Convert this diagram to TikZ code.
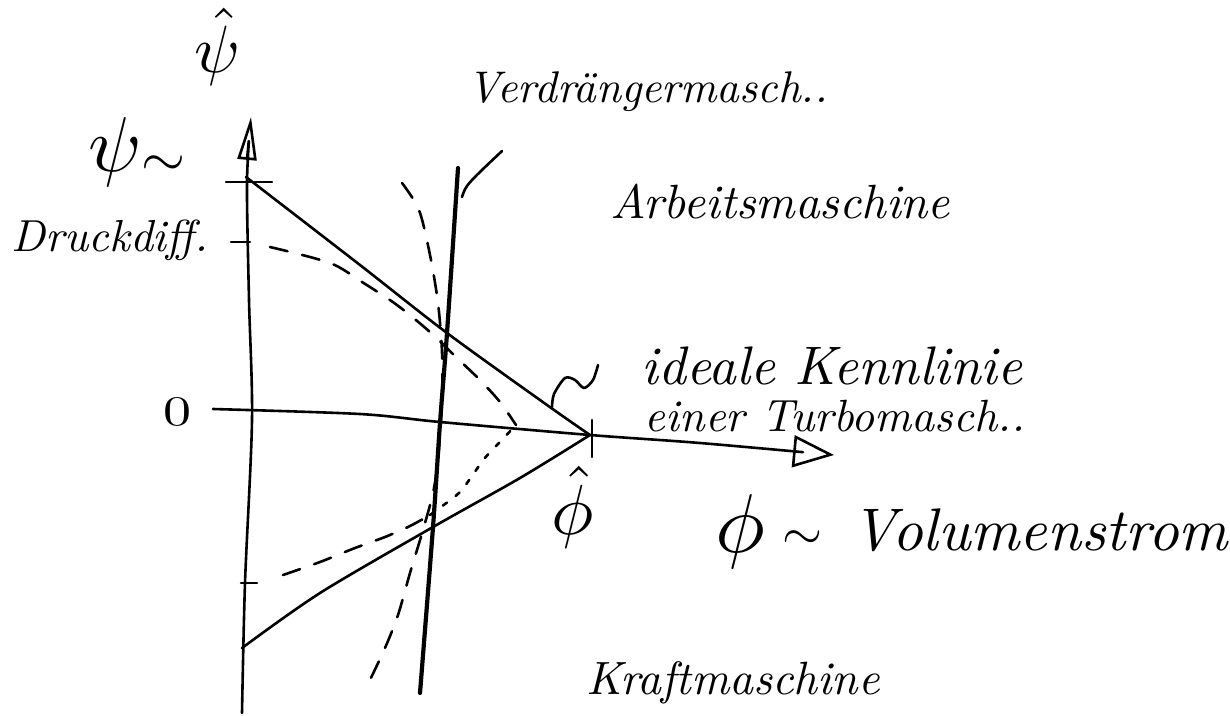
\documentclass[tikz,border=0pt]{standalone}
\usepackage{graphicx}
\usetikzlibrary{arrows.meta}
\newcommand{\hwtext}[2]{\resizebox{#1pt}{!}{\itshape #2}}
\begin{document}
\begin{tikzpicture}[x=1pt,y=-1pt,
  ink/.style={line width=2.6pt,line cap=round,line join=round},
  thickink/.style={line width=4.2pt,line cap=round,line join=round},
  dashink/.style={ink,dash pattern=on 18pt off 15pt},
  dotink/.style={ink,dash pattern=on 5pt off 11pt},
  lbl/.style={inner sep=0pt,outer sep=0pt}]
\useasboundingbox (0,0) rectangle (1230,715);

% key points
\coordinate (ytip) at (251,117);
\coordinate (xtip) at (834,455);
\coordinate (phihatpt) at (590,435);
\coordinate (topq) at (246,177);
\coordinate (lowq) at (242,648);
\coordinate (realend) at (516,425);

% axes
\draw[ink,-{Triangle[open,length=43pt,width=19pt,line width=2.6pt]}]
  plot[smooth] coordinates {(242,713) (245,583) (252,420) (249,300) (247,182) (251,117)};
\draw[ink,-{Triangle[open,length=41pt,width=32pt,line width=2.6pt]}]
  plot[smooth] coordinates {(213,409) (360,414) (440,422) (590,435) (700,443) (834,455)};

% ticks
\draw[ink] (226,182) -- (272,182);
\draw[ink] (231,242) -- (250,242);
\draw[ink] (241,583) -- (257,583);
\draw[ink] (592,420) -- (592,457);

% ideal turbomachine characteristic
\draw[ink] plot[smooth] coordinates {(topq) (360,265) (447,333) (547,405) (phihatpt)};
\draw[ink] plot[smooth] coordinates {(lowq) (320,593) (433,527) (520,478) (phihatpt)};

% real characteristic (dashed)
\draw[dashink] plot[smooth] coordinates {(270,247) (330,263) (362,282) (397,305) (430,332) (457,358) (480,380) (500,402) (realend)};
\draw[dashink] plot[smooth] coordinates {(283,575) (320,562) (355,548) (385,537) (410,526) (430,515)};
\draw[dotink] plot[smooth] coordinates {(430,515) (445,504) (460,492) (472,476) (484,459) (498,444) (realend)};

% displacement machine
\draw[thickink] plot[smooth] coordinates {(458,168) (447,333) (440,423) (433,527) (420,693)};
\draw[dashink] plot[smooth] coordinates {(402,183) (419,210) (430,255) (438,303) (442,352) (442,400) (438,460) (433,493) (423,530) (410,573) (398,615) (385,648) (369,682)};
\draw[ink] (462,197) .. controls (466,185) .. (502,151);

% pointer squiggle
\draw[ink] plot[smooth] coordinates {(552,407) (554,394) (565,378) (575,380) (584,388) (593,380) (598,365)};

% labels
\node[lbl] (psihat) at (217,47) {\resizebox{!}{64pt}{$\hat{\psi}$}};
\node[lbl] (psisym) at (115,152) {\resizebox{!}{54pt}{$\psi$}};
\node[lbl] (psisim) at (163,166) {\resizebox{44pt}{!}{$\sim$}};
\node[lbl] (druck) at (110,240) {\hwtext{196}{Druckdiff.}};
\node[lbl] (zero) at (177,412) {\resizebox{28pt}{28pt}{0}};
\node[lbl] (verd) at (648,92) {\hwtext{360}{Verdrängermasch..}};
\node[lbl] (arb) at (780,202) {\hwtext{340}{Arbeitsmaschine}};
\node[lbl] (ideal) at (832,366) {\hwtext{380}{ideale Kennlinie}};
\node[lbl] (turbo) at (835,416) {\hwtext{380}{einer Turbomasch..}};
\node[lbl] (phihat) at (573,507) {\resizebox{!}{68pt}{$\hat{\phi}$}};
\node[lbl] (phisym) at (740,532) {\resizebox{!}{58pt}{$\phi$}};
\node[lbl] (phisim) at (802,540) {\resizebox{40pt}{!}{$\sim$}};
\node[lbl] (vol) at (1040,530) {\hwtext{376}{Volumenstrom}};
\node[lbl] (kraft) at (733,683) {\hwtext{293}{Kraftmaschine}};
\end{tikzpicture}
\end{document}
